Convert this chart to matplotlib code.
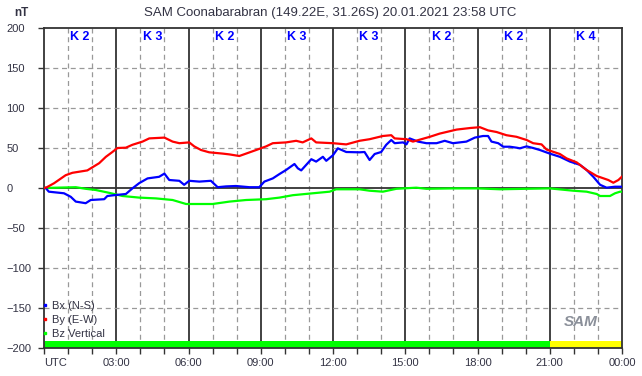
# SAM magnetometer plot - Coonabarabran 20.01.2021

import matplotlib
matplotlib.use("Agg")
import matplotlib.pyplot as plt
from matplotlib.lines import Line2D

plt.rcParams['font.family'] = ['Liberation Sans', 'DejaVu Sans']

# Bx (N-S)
bx_h = [0.0, 0.07, 0.2, 0.83, 1.11, 1.32, 1.73, 1.94, 2.5, 2.63, 2.91, 3.4, 3.67, 3.95,
        4.3, 4.78, 5.0, 5.2, 5.62, 5.82, 6.03, 6.45, 6.93, 7.21, 7.56, 7.97, 8.53, 8.94,
        9.15, 9.5, 9.78, 10.05, 10.4, 10.54, 10.68, 10.89, 11.1, 11.3, 11.58, 11.72, 12.0,
        12.2, 12.55, 13.1, 13.31, 13.52, 13.73, 14.0, 14.21, 14.42, 14.56, 14.91, 15.05,
        15.18, 15.53, 15.88, 16.3, 16.64, 16.98, 17.54, 17.89, 18.23, 18.44, 18.58, 18.86,
        19.07, 19.34, 19.62, 19.76, 20.04, 20.31, 20.59, 21.0, 21.42, 21.84, 22.25, 22.53,
        22.81, 23.09, 23.36, 23.71, 23.99]
bx = [0, 0, -4.6, -6.6, -11, -17, -19, -15, -14, -10, -9, -7.5, -0.5, 6,
      12, 14, 18, 10, 9, 4, 9, 8, 9, 1, 2, 2.5, 1, 1,
      8, 12, 17.5, 22.5, 30, 24.6, 22, 29, 36, 33, 39, 34, 41,
      49.6, 45, 44.6, 45, 35, 42.5, 45, 54, 60, 56, 57, 54.5,
      62, 58, 56, 56, 59, 56, 58, 63, 65, 65, 58, 56,
      51.6, 51.6, 50.4, 49.6, 52, 50, 47.5, 43, 39, 33, 29, 22.5,
      14, 4, 0.4, 1.6, 1.6]

# By (E-W)
by_h = [0.0, 0.12, 0.42, 0.9, 1.18, 1.8, 1.94, 2.29, 2.57, 2.84, 3.05, 3.4, 3.67, 4.09,
        4.37, 5.0, 5.34, 5.62, 6.03, 6.24, 6.52, 6.86, 7.42, 7.7, 8.11, 8.39, 8.81, 9.22,
        9.5, 10.05, 10.47, 10.74, 11.1, 11.3, 12.0, 12.55, 13.1, 13.52, 14.07, 14.42,
        14.56, 15.05, 15.32, 15.67, 16.02, 16.43, 16.85, 17.13, 17.7, 18.1, 18.44, 18.79,
        19.2, 19.62, 20.04, 20.31, 20.66, 20.87, 21.42, 21.7, 22.12, 22.53, 22.95, 23.43,
        23.64, 23.85, 23.99]
by = [0, 1, 6, 16, 19, 22, 24.6, 31, 39, 45, 50, 50.4, 54, 58,
      62, 63, 58, 56, 57, 52, 47.5, 44.6, 43, 42, 40, 43, 47.5, 52,
      56, 57, 59, 57, 62, 57, 56, 54.5, 59, 61, 65, 66,
      62, 61, 58, 61, 64, 68, 71, 73, 75, 76, 72, 70,
      66, 64, 60, 56, 54.5, 48, 42.5, 37, 32, 22.5, 15, 10,
      6.6, 10, 14]

# Bz Vertical
bz_h = [0.0, 1.32, 1.73, 2.15, 2.7, 3.26, 3.95, 4.65, 5.34, 5.9, 6.45, 7.0, 7.7, 8.39,
        9.22, 9.78, 10.33, 11.16, 11.86, 12.13, 13.1, 13.52, 14.07, 14.63, 15.46, 15.88,
        17.0, 18.0, 18.93, 20.0, 21.0, 21.98, 22.53, 22.95, 23.09, 23.5, 23.71, 23.92, 24.0]
bz = [0, 1, -1, -2.5, -6, -10, -12, -13, -15, -20, -20, -20, -17, -15,
      -14, -12, -9, -6.6, -4.6, -1.6, -1.6, -3.4, -4.6, -1, 0.4, -1,
      -0.5, -0.5, -1.6, -1, -0.5, -3.4, -4.6, -7.5, -10, -10, -6.6, -4.6, -4.6]

k_index = ["K 2", "K 3", "K 2", "K 3", "K 3", "K 2", "K 2", "K 4"]
bar_start = [0, 21]
bar_width = [21, 3]
bar_colors = ["#00ff00", "#ffff00"]

xticklabels = ["UTC", "03:00", "06:00", "09:00", "12:00", "15:00", "18:00", "21:00", "00:00"]
txt = "#333344"

fig = plt.figure(figsize=(6.42, 3.76), dpi=100)
ax = fig.add_axes([44 / 642, 1 - 348 / 376, 578 / 642, 320 / 376])

# grid
for h in range(1, 24):
    if h % 3 == 0:
        ax.axvline(h, color="#333333", lw=1.3, zorder=1)
    else:
        ax.axvline(h, color="#999999", lw=0.9, ls=(0, (4, 3)), zorder=1)
for v in range(-150, 200, 50):
    if v == 0:
        ax.axhline(0, color="#333333", lw=1.3, zorder=1)
    else:
        ax.axhline(v, color="#999999", lw=0.9, ls=(0, (4, 3)), zorder=1)

ax.bar(bar_start, 9, width=bar_width, bottom=-200, align="edge", color=bar_colors,
       linewidth=0, zorder=2)

ax.plot(bz_h, bz, color="#00ff00", lw=1.6, zorder=3)
ax.plot(bx_h, bx, color="#0000ff", lw=1.6, zorder=4)
ax.plot(by_h, by, color="#ff0000", lw=1.6, zorder=5)

for i, k in enumerate(k_index):
    ax.text(1.5 + 3 * i, 189, k, color="#0000ff", fontsize=9, fontweight="bold",
            ha="center", va="center", zorder=6)

ax.set_xlim(0, 24)
ax.set_ylim(-200, 200)
ax.set_xticks(range(0, 25, 3))
ax.set_xticks(range(0, 25), minor=True)
ax.set_xticklabels(xticklabels)
ax.get_xticklabels()[0].set_ha("left")
ax.set_yticks(range(-200, 201, 50))
ax.tick_params(axis="x", which="both", length=4, width=1, color="#333333",
               labelsize=8, labelcolor=txt, pad=3)
ax.tick_params(axis="y", length=4, width=1, color="#333333", labelsize=8,
               labelcolor=txt, pad=23)
for lab in ax.get_yticklabels():
    lab.set_ha("left")
for s in ax.spines.values():
    s.set_color("#333333")
    s.set_linewidth(1.3)

handles = [Line2D([], [], color=c, marker="s", markersize=2, ls="none")
           for c in ["#0000ff", "#ff0000", "#00ff00"]]
ax.legend(handles, ["Bx (N-S)", "By (E-W)", "Bz Vertical"], loc="lower left",
          bbox_to_anchor=(-0.012, 0.015), frameon=False, fontsize=8, handlelength=0.6,
          handletextpad=0.3, labelspacing=0.35, borderaxespad=0, labelcolor=txt)

ax.text(22.3, -167, "SAM", color="#8a8f99", fontsize=11, fontstyle="italic",
        fontweight="bold", ha="center", va="center", zorder=6)

fig.text(330 / 642, 1 - 13 / 376, "SAM Coonabarabran (149.22E, 31.26S) 20.01.2021 23:58 UTC",
         ha="center", va="center", fontsize=9.5, color=txt)
fig.text(14 / 642, 1 - 13 / 376, "nT", ha="left", va="center", fontsize=8.5,
         fontweight="bold", color=txt)

fig.savefig("out.png", dpi=100, facecolor="white")
